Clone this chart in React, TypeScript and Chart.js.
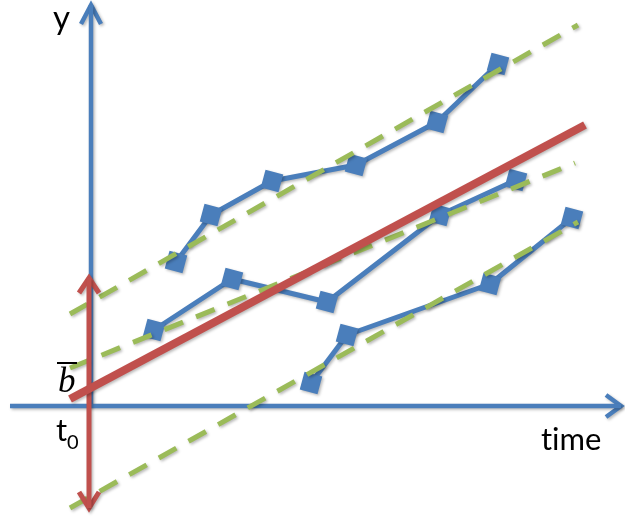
import React, { useEffect, useRef } from "react";
import { Chart, registerables } from "chart.js";

Chart.register(...registerables);

// Coordinates: x = time (t0 at 0), y = value (axis at 0)
const topX = [86, 121, 182, 266, 347, 408];
const topY = [144, 191, 225, 241, 284, 342];
const midX = [64, 142, 237, 350, 426];
const midY = [76, 127, 104, 191, 226];
const lowX = [221, 257, 400, 482];
const lowY = [23, 71, 122, 188];

const fitTopX = [-20, 488];
const fitTopY = [92, 381];
const fitMidX = [-20, 485];
const fitMidY = [38, 243];
const fitLowX = [-20, 488];
const fitLowY = [-102, 184];

const meanX = [-20, 495];
const meanY = [7, 281];

const hAxisX = [-80, 531];
const hAxisY = [0, 0];
const hHeadX = [516, 531, 516];
const hHeadY = [11, 0, -11];
const vAxisX = [1, 1];
const vAxisY = [0, 401];
const vHeadX = [-9, 1, 11];
const vHeadY = [382, 401, 382];

const bX = [-1, -1];
const bY = [-102, 128];
const bTopX = [-11, -1, 9];
const bTopY = [113, 128, 113];
const bBotX = [-11, -1, 9];
const bBotY = [-86, -102, -86];

const BLUE = "#4A7EBB";
const RED = "#C0504D";
const GREEN = "#9BBB59";

const zip = (xs: number[], ys: number[]) => xs.map((x, i) => ({ x, y: ys[i] }));

export default function App() {
  const ref = useRef<HTMLCanvasElement | null>(null);
  useEffect(() => {
    document.body.style.margin = "0";
    const canvas = ref.current!;
    const plain = (data: any, color: string, width: number, order: number, extra: any = {}) => ({
      data,
      borderColor: color,
      backgroundColor: color,
      borderWidth: width,
      pointRadius: 0,
      pointHoverRadius: 0,
      tension: 0,
      fill: false,
      clip: false,
      order,
      borderCapStyle: "butt",
      borderJoinStyle: "miter",
      ...extra,
    });
    const series = (data: any) => ({
      data,
      borderColor: BLUE,
      backgroundColor: BLUE,
      borderWidth: 5,
      pointStyle: "rect",
      pointRadius: 13,
      pointRotation: 15,
      pointBorderWidth: 0,
      pointBackgroundColor: BLUE,
      tension: 0,
      fill: false,
      clip: false,
      order: 3,
      borderJoinStyle: "round",
    });
    const labelPlugin = {
      id: "labels",
      beforeDatasetsDraw(chart: any) {
        const ctx = chart.ctx;
        ctx.save();
        ctx.shadowColor = "rgba(0,0,0,0.28)";
        ctx.shadowBlur = 3;
        ctx.shadowOffsetX = 1.5;
        ctx.shadowOffsetY = 1.5;
      },
      afterDatasetsDraw(chart: any) {
        const ctx = chart.ctx;
        ctx.restore();
        ctx.save();
        ctx.fillStyle = "#000";
        ctx.textBaseline = "alphabetic";
        ctx.textAlign = "left";
        ctx.font = "33px Lato";
        ctx.fillText("y", 53, 29);
        ctx.font = "31px Lato";
        ctx.fillText("t\u200Bime", 541, 450);
        ctx.font = "31px Lato";
        ctx.fillText("t", 56, 441);
        ctx.font = "20px Lato";
        ctx.fillText("0", 67, 449);
        ctx.font = "italic 35px 'Liberation Serif'";
        ctx.fillText("b", 58, 392);
        ctx.fillRect(57, 362, 20, 2);
        ctx.restore();
      },
    };
    const chart = new Chart(canvas, {
      type: "line",
      data: {
        datasets: [
          plain(zip(meanX, meanY), RED, 8, 0) as any,
          plain(zip(bX, bY), RED, 5, 1),
          plain(zip(bTopX, bTopY), RED, 5, 1),
          plain(zip(bBotX, bBotY), RED, 5, 1),
          plain(zip(fitTopX, fitTopY), GREEN, 5, 2, { borderDash: [20, 14] }),
          plain(zip(fitMidX, fitMidY), GREEN, 5, 2, { borderDash: [20, 14] }),
          plain(zip(fitLowX, fitLowY), GREEN, 5, 2, { borderDash: [20, 14] }),
          series(zip(topX, topY)),
          series(zip(midX, midY)),
          series(zip(lowX, lowY)),
          plain(zip(hAxisX, hAxisY), BLUE, 4.5, 4),
          plain(zip(hHeadX, hHeadY), BLUE, 4.5, 4),
          plain(zip(vAxisX, vAxisY), BLUE, 4.5, 4),
          plain(zip(vHeadX, vHeadY), BLUE, 4.5, 4),
        ],
      },
      options: {
        animation: false,
        responsive: false,
        devicePixelRatio: 1,
        layout: { padding: 0, autoPadding: false },
        events: [],
        plugins: { legend: { display: false }, tooltip: { enabled: false } },
        scales: {
          x: { type: "linear", min: -90, max: 535, display: false },
          y: { type: "linear", min: -111, max: 406, display: false },
        },
      },
      plugins: [labelPlugin],
    });
    return () => chart.destroy();
  }, []);
  return (
    <div style={{ width: 625, height: 517, background: "#fff" }}>
      <canvas ref={ref} width={625} height={517} />
    </div>
  );
}
